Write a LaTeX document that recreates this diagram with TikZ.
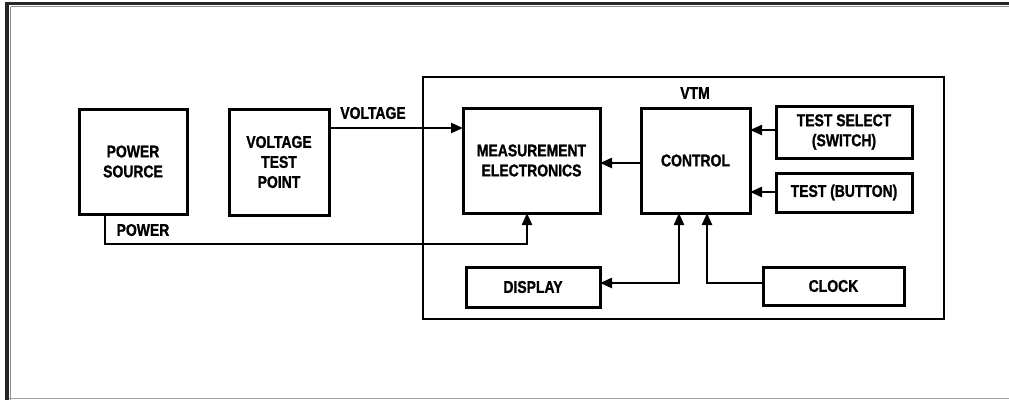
\documentclass[tikz,border=0pt]{standalone}
\usepackage{fontspec}
\setmainfont{Liberation Sans}[FakeStretch=0.82]
\usetikzlibrary{arrows.meta}
\begin{document}
\begin{tikzpicture}[x=1pt,y=-1pt,
  txt/.style={font=\addfontfeatures{FakeBold=1.2}\bfseries\fontsize{17}{20}\selectfont},
  box/.style={draw, line width=3pt, inner sep=0pt, outer sep=0pt, align=center, txt},
  lbl/.style={inner sep=0pt, txt},
  tip/.tip={Triangle[length=12pt,width=10pt]},
  conn/.style={line width=2.3pt, -tip},
]
\useasboundingbox (0,0) rectangle (1009,400);
% frame
\draw[line width=3.5pt, black!85] (5,3.5) -- (1009,3.5);
\draw[line width=4pt, black!85] (7,1.5) -- (7,400);
\draw[line width=1.2pt, black!45] (10.5,6.5) -- (1009,6.5);
\draw[line width=1.2pt, black!45] (10.5,6.5) -- (10.5,400);
\draw[line width=1.5pt, black!35] (9,398.5) -- (1009,398.5);
% VTM enclosure
\node[draw, line width=2.3pt, inner sep=0pt, minimum width=521pt, minimum height=242pt] (vtmbox) at (683.5,198) {};
\node[lbl] (vtm) at (695,93) {VTM};
% boxes
\node[box, minimum width=108pt, minimum height=105pt] (ps) at (133,161.5) {POWER\\SOURCE};
\node[box, minimum width=100pt, minimum height=106pt] (vtp) at (279,162) {VOLTAGE\\TEST\\POINT};
\node[box, minimum width=137pt, minimum height=105pt] (meas) at (531.5,160.5) {MEASUREMENT\\ELECTRONICS};
\node[box, minimum width=109pt, minimum height=105pt] (ctl) at (695.5,160.5) {CONTROL};
\node[box, minimum width=136pt, minimum height=52pt] (tsel) at (844,132) {TEST SELECT\\(SWITCH)};
\node[box, minimum width=136pt, minimum height=39pt] (tbtn) at (844,192.5) {TEST (BUTTON)};
\node[box, minimum width=134pt, minimum height=40pt] (disp) at (533,287) {DISPLAY};
\node[box, minimum width=141pt, minimum height=38pt] (clk) at (833.5,286) {CLOCK};
% labels
\node[lbl] (vl) at (373,113) {VOLTAGE};
\node[lbl] (pl) at (143,230) {POWER};
% helper coordinates
\coordinate (vy) at (0,128);
\coordinate (cy) at (0,163);
\coordinate (sy) at (0,130);
\coordinate (by) at (0,192);
\coordinate (pw1) at (105,244);
\coordinate (pw2) at (527,244);
\coordinate (dp) at (679,283);
\coordinate (ck) at (707,283);
% connectors
\draw[conn] (vtp.east |- vy) -- (meas.west |- vy);
\draw[conn] (ps.south -| pw1) -- (pw1) -- (pw2) -- (meas.south -| pw2);
\draw[conn] (ctl.west |- cy) -- (meas.east |- cy);
\draw[conn] (tsel.west |- sy) -- (ctl.east |- sy);
\draw[conn] (tbtn.west |- by) -- (ctl.east |- by);
\draw[line width=2.3pt, tip-tip] (ctl.south -| dp) -- (dp) -- (disp.east |- dp);
\draw[conn] (clk.west |- ck) -- (ck) -- (ctl.south -| ck);
\end{tikzpicture}
\end{document}
